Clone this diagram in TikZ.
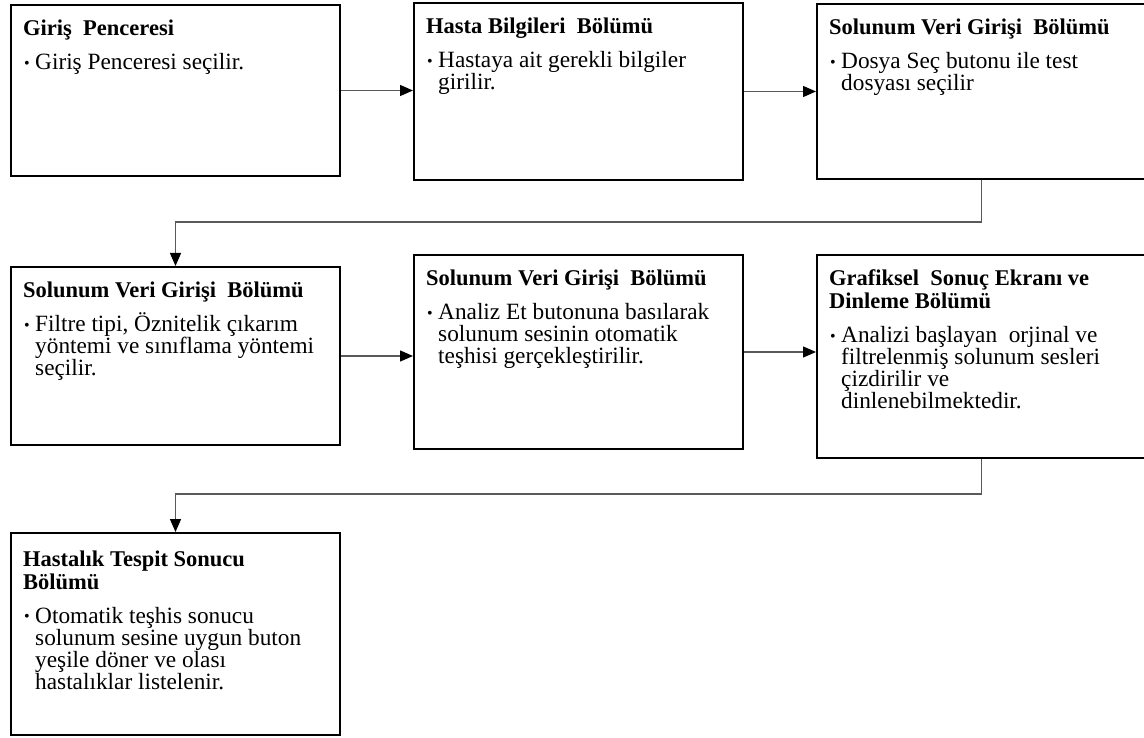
\documentclass[tikz,border=0pt]{standalone}
\usepackage{fontspec}
\setmainfont{Liberation Serif}
\usetikzlibrary{arrows.meta,calc}
\newcommand\ttlfont{\bfseries\fontsize{22.5}{23}\selectfont}
\newcommand\bdfont{\normalfont\fontsize{23.3}{22}\selectfont}
\newcommand\bul{{\fontsize{16}{16}\selectfont\raisebox{1.5pt}{•}}}
\newcommand\T[1]{\baselineskip=23pt\hbox{\ttlfont #1}}
\newcommand\B[1]{\baselineskip=34pt\hbox{\bdfont\hskip1pt\makebox[11pt][l]{\bul}#1}\baselineskip=22pt}
\newcommand\C[1]{\hbox{\bdfont\hskip12pt #1}}
\tikzset{
  box/.style={draw=black, line width=2pt, minimum width=329pt, inner sep=0pt, anchor=north west},
  txt/.style={inner sep=0pt, anchor=base west},
  conn/.style={draw=black!65, line width=1.3pt, -{Triangle[length=13pt,width=11pt,color=black]}}
}
\newcommand\fb[6]{%
  \node[box, minimum height=#4pt] (#1) at (#2,#3) {};
  \node[txt] (#1-text) at ($(#1.north west)+(13,#5)$) {\vtop{#6}};
}
\begin{document}
\begin{tikzpicture}[x=1pt,y=-1pt]
\path[use as bounding box] (0,0) rectangle (1144,738);
\fb{b1}{10}{4}{171}{32}{\T{Giriş\ \ Penceresi}\B{Giriş Penceresi seçilir.}}
\fb{b2}{413}{2}{177}{32}{\T{Hasta Bilgileri\ \ Bölümü}\B{Hastaya ait gerekli bilgiler}\C{girilir.}}
\fb{b3}{816}{3}{175}{32}{\T{Solunum Veri Girişi\ \ Bölümü}\B{Dosya Seç butonu ile test}\C{dosyası seçilir}}
\fb{b4}{10}{266}{178}{32}{\T{Solunum Veri Girişi\ \ Bölümü}\B{Filtre tipi, Öznitelik çıkarım}\C{yöntemi ve sınıflama yöntemi}\C{seçilir.}}
\fb{b5}{413}{254}{194}{32}{\T{Solunum Veri Girişi\ \ Bölümü}\B{Analiz Et butonuna basılarak}\C{solunum sesinin otomatik}\C{teşhisi gerçekleştirilir.}}
\fb{b6}{816}{254}{203}{32}{\T{Grafiksel\ \ Sonuç Ekranı ve}\T{Dinleme Bölümü}\B{Analizi başlayan\ \ orjinal ve}\C{filtrelenmiş solunum sesleri}\C{çizdirilir ve}\C{dinlenebilmektedir.}}
\fb{b7}{10}{532}{202}{34}{\T{Hastalık Tespit Sonucu}\T{Bölümü}\B{Otomatik teşhis sonucu}\C{solunum sesine uygun buton}\C{yeşile döner ve olası}\C{hastalıklar listelenir.}}
\coordinate (m1) at (0,222);
\coordinate (m2) at (0,494);
\draw[conn] (b1.east) -- (b1.east -| b2.west);
\draw[conn] (b2.east) -- (b2.east -| b3.west);
\draw[conn] (b3.south) -- (b3.south |- m1) -| (b4.north);
\draw[conn] (b4.east) -- (b4.east -| b5.west);
\draw[conn] (b5.east) -- (b5.east -| b6.west);
\draw[conn] (b6.south) -- (b6.south |- m2) -| (b7.north);
\end{tikzpicture}
\end{document}
